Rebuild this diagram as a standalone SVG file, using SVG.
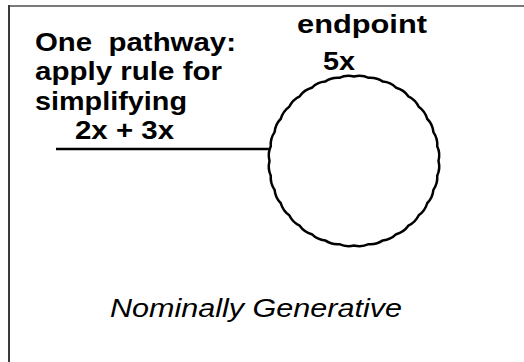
<svg xmlns="http://www.w3.org/2000/svg" width="524" height="362" viewBox="0 0 524 362">
<style>
.b{font-family:"Liberation Sans",Arial,sans-serif;font-weight:bold;font-size:25px;fill:#000}
.i{font-family:"Liberation Sans",Arial,sans-serif;font-style:italic;font-size:26px;fill:#000}
.ln{stroke:#000;stroke-width:2.5;fill:none}
</style>
<rect width="524" height="362" fill="#fff"/>
<g id="frame">
<line x1="8" y1="6" x2="524" y2="6" stroke="#7a7a7a" stroke-width="2"/>
<line x1="9" y1="5" x2="9" y2="362" stroke="#3a3a3a" stroke-width="2"/>
</g>
<g id="connectors">
<line class="ln" x1="56" y1="149" x2="270" y2="149"/>
</g>
<g id="pathway-label">
<text class="b" x="35" y="50.5" textLength="201" lengthAdjust="spacingAndGlyphs" xml:space="preserve">One  pathway:</text>
<text class="b" x="35" y="80" textLength="187" lengthAdjust="spacingAndGlyphs">apply rule for</text>
<text class="b" x="35" y="109.5" textLength="152" lengthAdjust="spacingAndGlyphs">simplifying</text>
<text class="b" x="75" y="139" textLength="99" lengthAdjust="spacingAndGlyphs">2x + 3x</text>
</g>
<g id="endpoint">
<path class="ln" d="M438.5,161 Q440.47,168.57 437.22,175.67 Q437.84,183.46 433.4,189.9 Q432.67,197.68 427.18,203.25 Q425.11,210.79 418.73,215.32 Q415.38,222.38 408.32,225.73 Q403.79,232.11 396.25,234.18 Q390.68,239.67 382.9,240.4 Q376.46,244.84 368.67,244.22 Q361.57,247.47 354,245.5 Q346.43,247.47 339.33,244.22 Q331.54,244.84 325.1,240.4 Q317.32,239.67 311.75,234.18 Q304.21,232.11 299.68,225.73 Q292.62,222.38 289.27,215.32 Q282.89,210.79 280.82,203.25 Q275.33,197.68 274.6,189.9 Q270.16,183.46 270.78,175.67 Q267.53,168.57 269.5,161 Q267.53,153.43 270.78,146.33 Q270.16,138.54 274.6,132.1 Q275.33,124.32 280.82,118.75 Q282.89,111.21 289.27,106.68 Q292.62,99.62 299.68,96.27 Q304.21,89.89 311.75,87.82 Q317.32,82.33 325.1,81.6 Q331.54,77.16 339.33,77.78 Q346.43,74.53 354,76.5 Q361.57,74.53 368.67,77.78 Q376.46,77.16 382.9,81.6 Q390.68,82.33 396.25,87.82 Q403.79,89.89 408.32,96.27 Q415.38,99.62 418.73,106.68 Q425.11,111.21 427.18,118.75 Q432.67,124.32 433.4,132.1 Q437.84,138.54 437.22,146.33 Q440.47,153.43 438.5,161 Z"/>
<text class="b" x="297" y="33" textLength="130" lengthAdjust="spacingAndGlyphs">endpoint</text>
<text class="b" x="323" y="70" textLength="32" lengthAdjust="spacingAndGlyphs">5x</text>
</g>
<g id="caption">
<text class="i" x="110" y="316.5" textLength="292" lengthAdjust="spacingAndGlyphs">Nominally Generative</text>
</g>
</svg>
